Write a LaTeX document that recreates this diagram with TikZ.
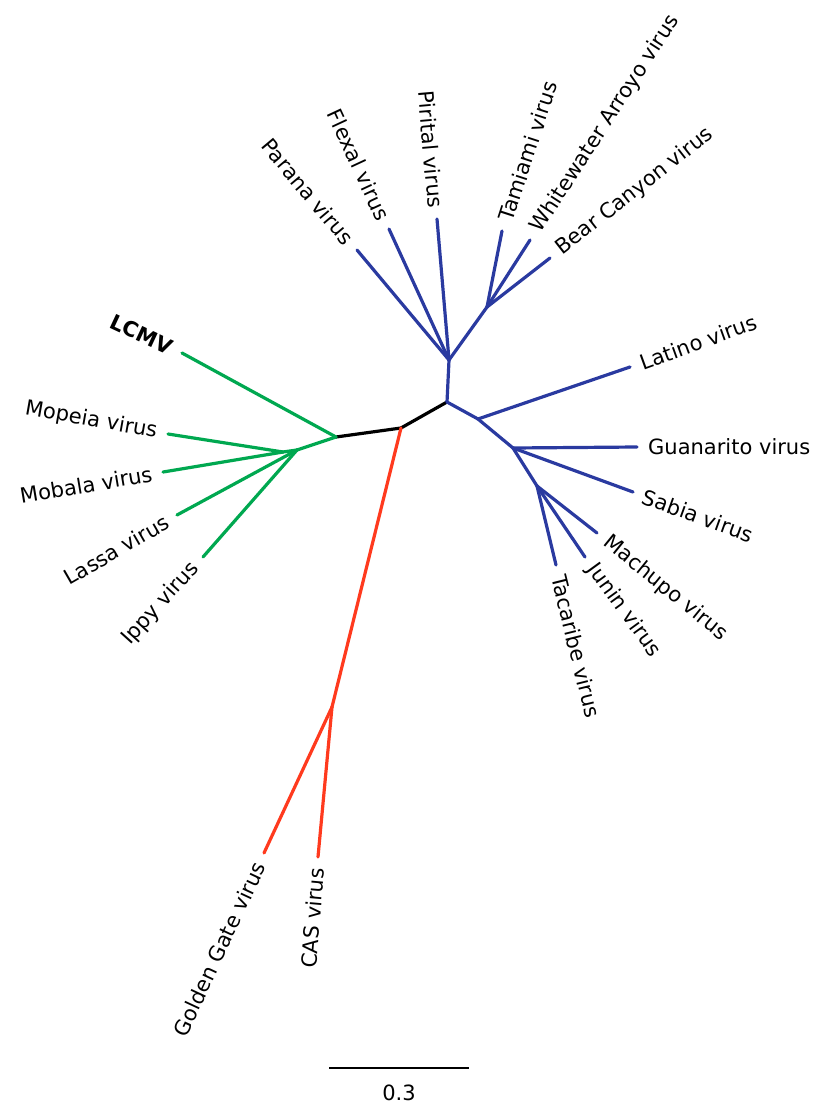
\documentclass[tikz,border=0pt]{standalone}
\usepackage{fontspec}
\setmainfont{DejaVu Sans}
\definecolor{treeblue}{RGB}{42,58,160}
\definecolor{treegreen}{RGB}{0,168,80}
\definecolor{treered}{RGB}{255,58,30}
\tikzset{
  branch/.style={line width=3.2pt, line cap=round, line join=round},
  lbl right/.style={anchor=west, inner xsep=11pt, inner ysep=0pt},
  lbl left/.style={anchor=east, inner xsep=11pt, inner ysep=0pt}
}
\begin{document}
\begin{tikzpicture}[x=1pt, y=-1pt, font=\fontsize{21}{25}\selectfont]
\useasboundingbox (0,0) rectangle (818,1107);
% inner nodes
\coordinate (root) at (447,402);
\coordinate (redsplit) at (401,428);
\coordinate (green) at (336,437);
\coordinate (up) at (449,360);
\coordinate (top) at (487,307);
\coordinate (r1) at (478,419);
\coordinate (r2) at (513,448);
\coordinate (r3) at (537,486);
\coordinate (g2) at (297,450);
\coordinate (g3) at (283,452);
\coordinate (red) at (332,707);
% leaves
\coordinate (parana) at (357,250);
\coordinate (flexal) at (389,229);
\coordinate (pirital) at (437,219);
\coordinate (tamiami) at (502,231);
\coordinate (whitewater) at (530,240);
\coordinate (bear) at (550,258);
\coordinate (latino) at (630,367);
\coordinate (guanarito) at (637,447);
\coordinate (sabia) at (633,492);
\coordinate (machupo) at (597,533);
\coordinate (junin) at (585,557);
\coordinate (tacaribe) at (556,565);
\coordinate (lcmv) at (182,353);
\coordinate (mopeia) at (168,434);
\coordinate (mobala) at (163,472);
\coordinate (lassa) at (177,515);
\coordinate (ippy) at (203,557);
\coordinate (golden) at (264,853);
\coordinate (cas) at (318,857);
% branches
\draw[branch] (root) -- (redsplit) -- (green);
\foreach \a/\b in {root/up, up/parana, up/flexal, up/pirital, up/top, top/tamiami,
  top/whitewater, top/bear, root/r1, r1/latino, r1/r2, r2/guanarito, r2/sabia,
  r2/r3, r3/machupo, r3/junin, r3/tacaribe}
  \draw[branch, treeblue] (\a) -- (\b);
\foreach \a/\b in {green/lcmv, green/g2, g2/g3, g3/mopeia, g3/mobala, g2/lassa, g2/ippy}
  \draw[branch, treegreen] (\a) -- (\b);
\foreach \a/\b in {redsplit/red, red/golden, red/cas}
  \draw[branch, treered] (\a) -- (\b);
% labels
\foreach \n/\r/\t in {parana/-50/Parana virus, flexal/-65/Flexal virus,
  pirital/-85/Pirital virus, lcmv/-25/\textbf{LCMV}, mopeia/-10/Mopeia virus,
  mobala/9.5/Mobala virus, lassa/30/Lassa virus, ippy/48/Ippy virus,
  golden/65/Golden Gate virus, cas/85/CAS virus}
  \node[lbl left, rotate=\r] (t\n) at (\n) {\t};
\foreach \n/\r/\t in {tamiami/72/Tamiami virus, whitewater/57/Whitewater Arroyo virus,
  bear/38/Bear Canyon virus, latino/20/Latino virus, guanarito/0/Guanarito virus,
  sabia/-20/Sabia virus, machupo/-39/Machupo virus, junin/-54/Junin virus,
  tacaribe/-76/Tacaribe virus}
  \node[lbl right, rotate=\r] (t\n) at (\n) {\t};
% scale bar
\coordinate (sb1) at (329,1068);
\coordinate (sb2) at (469,1068);
\draw[line width=2.8pt] (sb1) -- (sb2);
\node (scale) at (399,1093) {0.3};
\end{tikzpicture}
\end{document}
